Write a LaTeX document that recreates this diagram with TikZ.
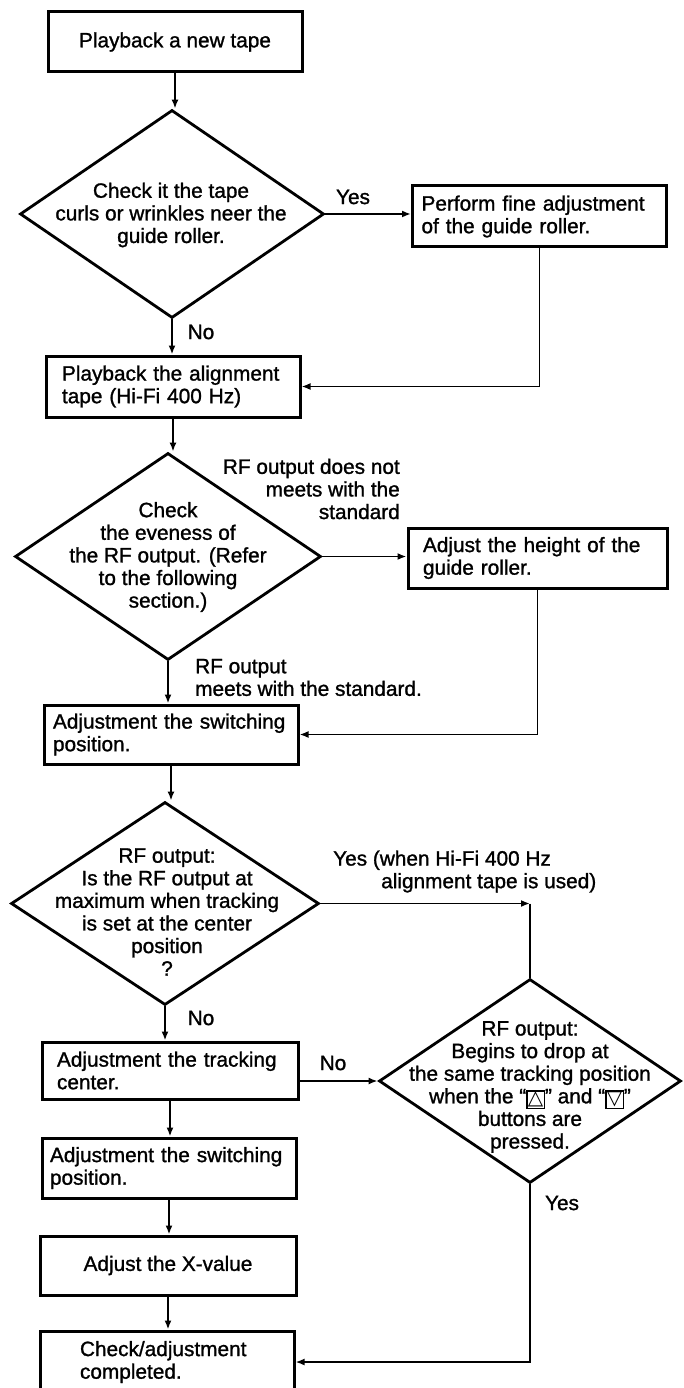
\documentclass[tikz,border=0pt]{standalone}
\usepackage{fontspec}
\setmainfont{Liberation Sans}[FakeBold=1.2]
\newfontfamily\dejavu{DejaVu Sans}
\usetikzlibrary{shapes.geometric,arrows.meta}
\newcommand\btnup{{\setlength\fboxsep{0.3pt}\setlength\fboxrule{1.4pt}\raisebox{-1.5pt}{\fbox{\dejavu\fontsize{20}{20}\selectfont △}}}}
\newcommand\btndn{{\setlength\fboxsep{0.3pt}\setlength\fboxrule{1.4pt}\raisebox{-1.5pt}{\fbox{\dejavu\fontsize{20}{20}\selectfont ▽}}}}
\tikzset{
  every node/.style={font=\fontsize{20.8}{22.6}\selectfont},
  stepbox/.style={draw, line width=3pt, inner ysep=0pt, align=left},
  decision/.style={draw, diamond, line width=2.8pt, inner sep=0pt},
  dtext/.style={align=center, inner sep=0pt},
  lbl/.style={inner sep=0pt},
  conn/.style={line width=1.8pt},
  arr/.style={conn, -{Latex[length=9pt,width=7pt]}}
}
\begin{document}
\begin{tikzpicture}[x=1pt,y=-1pt]
\useasboundingbox (0,0) rectangle (684,1388);
\fill[white] (0,0) rectangle (684,1388);
\clip (0,0) rectangle (684,1388);

% left column
\node[stepbox, align=center, minimum width=254, minimum height=60] (b1) at (175,42) {Playback a new tape};

\node[decision, minimum width=304, minimum height=208] (d1) at (172,214) {};
\node[dtext] (d1t) at (171,215) {Check it the tape\\curls or wrinkles neer the\\guide roller.};

\node[stepbox, text width=236, inner xsep=9pt, minimum height=61] (p1) at (539.5,216.5) {Perform fine adjustment\\of the guide roller.};

\node[stepbox, text width=222, inner xsep=16pt, minimum height=61] (b2) at (173,386.5) {Playback the alignment\\tape (Hi-Fi 400 Hz)};

\node[decision, minimum width=306, minimum height=207] (d2) at (168,556.5) {};
\node[dtext] (d2t) at (168,557) {Check\\the eveness of\\the RF output. (Refer\\to the following\\section.)};

\node[stepbox, text width=229, inner xsep=15pt, minimum height=60] (a2) at (537.5,558) {Adjust the height of the\\guide roller.};

\node[stepbox, text width=236, inner xsep=9pt, minimum height=59] (b3) at (171,734.5) {Adjustment the switching\\position.};

\node[decision, minimum width=308, minimum height=203] (d3) at (165,903.5) {};
\node[dtext] (d3t) at (167,912) {RF output:\\Is the RF output at\\maximum when tracking\\is set at the center\\position\\?};

\node[decision, minimum width=302, minimum height=204] (d4) at (530,1081) {};
\node[dtext] (d4t) at (530,1087) {RF output:\\Begins to drop at\\the same tracking position\\when the “\btnup” and “\btndn”\\buttons are\\pressed.};

\node[stepbox, text width=226, inner xsep=15pt, minimum height=57] (b4) at (170,1070.5) {Adjustment the tracking\\center.};

\node[stepbox, text width=238, inner xsep=8pt, minimum height=60] (b5) at (169,1168) {Adjustment the switching\\position.};

\node[stepbox, align=center, minimum width=256, minimum height=59] (b6) at (168,1265.5) {Adjust the X-value};

\node[stepbox, text width=174, inner xsep=40pt, minimum height=62] (b7) at (167,1362) {Check/adjustment\\completed.};

% labels
\node[lbl] (yes1) at (353,197) {Yes};
\node[lbl] (no1) at (201,332) {No};
\node[lbl, anchor=east, align=right] (notmeets) at (400,489) {RF output does not\\meets with the\\standard};
\node[lbl, anchor=west, align=left] (meets) at (195,677.5) {RF output\\meets with the standard.};
\node[lbl, anchor=west, align=left] (yes2) at (333,871.5) {Yes (when Hi-Fi 400 Hz\\\hspace*{48pt}alignment tape is used)};
\node[lbl] (no2) at (201,1018) {No};
\node[lbl] (no3) at (333,1063) {No};
\node[lbl] (yes3) at (562,1203) {Yes};

\coordinate (c1) at (d4.north |- d3.east);

% connectors
\draw[arr] (b1.south) -- (b1.south |- d1.north);
\draw[arr] (d1.east) -- (p1.west |- d1.east);
\draw[arr] (d1.south) -- (d1.south |- b2.north);
\draw[arr] (p1.south) -- (p1.south |- b2.east) -- (b2.east);
\draw[arr] (b2.south) -- (b2.south |- d2.north);
\draw[arr] (d2.east) -- (a2.west |- d2.east);
\draw[arr] (d2.south) -- (d2.south |- b3.north);
\draw[arr] (a2.south) -- (a2.south |- b3.east) -- (b3.east);
\draw[arr] (b3.south) -- (b3.south |- d3.north);
\draw[arr] (d3.east) -- (c1);
\draw[conn] (c1) -- (d4.north);
\draw[arr] (d3.south) -- (d3.south |- b4.north);
\draw[arr] (b4.east |- d4.west) -- (d4.west);
\draw[arr] (b4.south) -- (b4.south |- b5.north);
\draw[arr] (b5.south) -- (b5.south |- b6.north);
\draw[arr] (b6.south) -- (b6.south |- b7.north);
\draw[arr] (d4.south) -- (d4.south |- b7.east) -- (b7.east);
\end{tikzpicture}
\end{document}
